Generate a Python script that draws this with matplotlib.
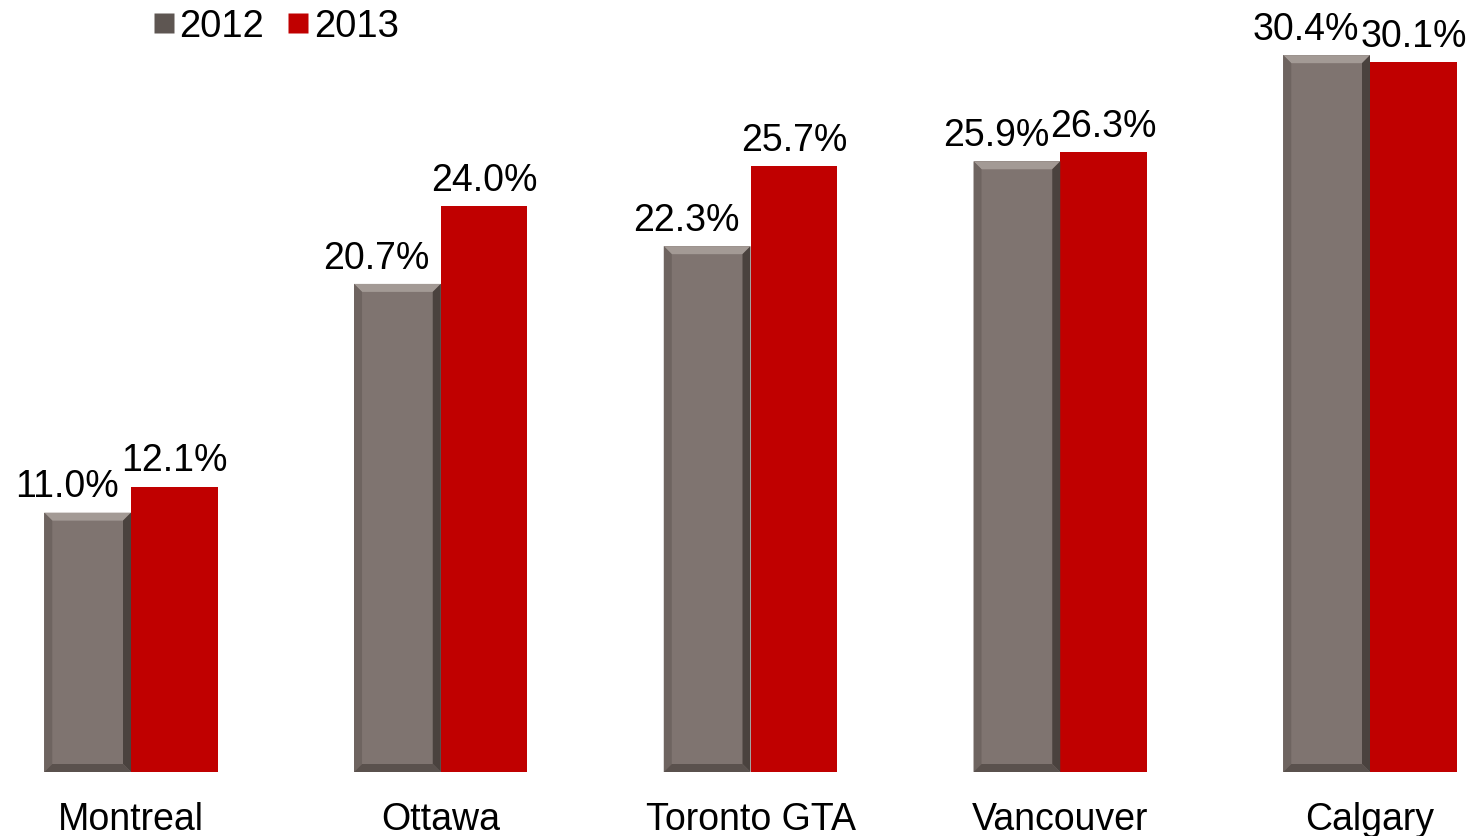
import numpy as np
import matplotlib.pyplot as plt
from matplotlib.patches import Polygon
from matplotlib.lines import Line2D

cities = ["Montreal", "Ottawa", "Toronto GTA", "Vancouver", "Calgary"]
vals_2012 = [11.0, 20.7, 22.3, 25.9, 30.4]
vals_2013 = [12.1, 24.0, 25.7, 26.3, 30.1]
years = ["2012", "2013"]

gray = "#7f7470"
red = "#c00000"

plt.rcParams['font.family'] = ['Liberation Sans', 'DejaVu Sans']

W, H = 1477, 837
fig = plt.figure(figsize=(W / 100, H / 100), dpi=100)
ax = fig.add_axes([0, 64 / H, 1, 1 - 64 / H])

x = np.arange(len(cities))
w = 0.28
b1 = ax.bar(x - w / 2, vals_2012, w, color=gray, zorder=2)
b2 = ax.bar(x + w / 2, vals_2013, w, color=red, zorder=2)

ax.set_xlim(-131 / 309.75, 4 + 107 / 309.75)
ax.set_ylim(0, 773 / 23.58)
for s in ax.spines.values():
    s.set_visible(False)
ax.set_yticks([])
ax.set_xticks(x)
ax.set_xticklabels(cities, fontsize=27)
ax.tick_params(axis='x', length=0, pad=21)

# bevel on the 2012 bars
fig.canvas.draw()
inv = ax.transData.inverted()
bev = 8
for p in b1:
    (x0, y0), (x1, y1) = ax.transData.transform([(p.get_x(), 0), (p.get_x() + p.get_width(), p.get_height())])
    outer = [(x0, y0), (x0, y1), (x1, y1), (x1, y0)]
    inner = [(x0 + bev, y0 + bev), (x0 + bev, y1 - bev), (x1 - bev, y1 - bev), (x1 - bev, y0 + bev)]
    sides = [
        ([outer[1], outer[2], inner[2], inner[1]], "#a39a95"),  # top
        ([outer[0], outer[1], inner[1], inner[0]], "#6e6460"),  # left
        ([outer[2], outer[3], inner[3], inner[2]], "#4a423e"),  # right
        ([outer[3], outer[0], inner[0], inner[3]], "#5a514d"),  # bottom
    ]
    for pts, c in sides:
        ax.add_patch(Polygon(inv.transform(pts), closed=True, facecolor=c,
                             edgecolor='none', zorder=3))

for xi, v in zip(x, vals_2012):
    ax.annotate(f"{v:.1f}%", (xi - w / 2, v), xytext=(-15, 6), textcoords='offset points',
                ha='center', va='bottom', fontsize=27)
for xi, v in zip(x, vals_2013):
    ax.annotate(f"{v:.1f}%", (xi + w / 2, v), xytext=(0, 6), textcoords='offset points',
                ha='center', va='bottom', fontsize=27)

handles = [Line2D([], [], marker='s', linestyle='none', markersize=14, color=c, markeredgecolor='none')
           for c in ["#5e5652", red]]
fig.legend(handles, years, loc='upper left', bbox_to_anchor=(0.08, 1.03), ncol=2,
           frameon=False, fontsize=27.5, handlelength=0.6, handletextpad=0.1, columnspacing=0.6)

fig.savefig("out.png", dpi=100)
